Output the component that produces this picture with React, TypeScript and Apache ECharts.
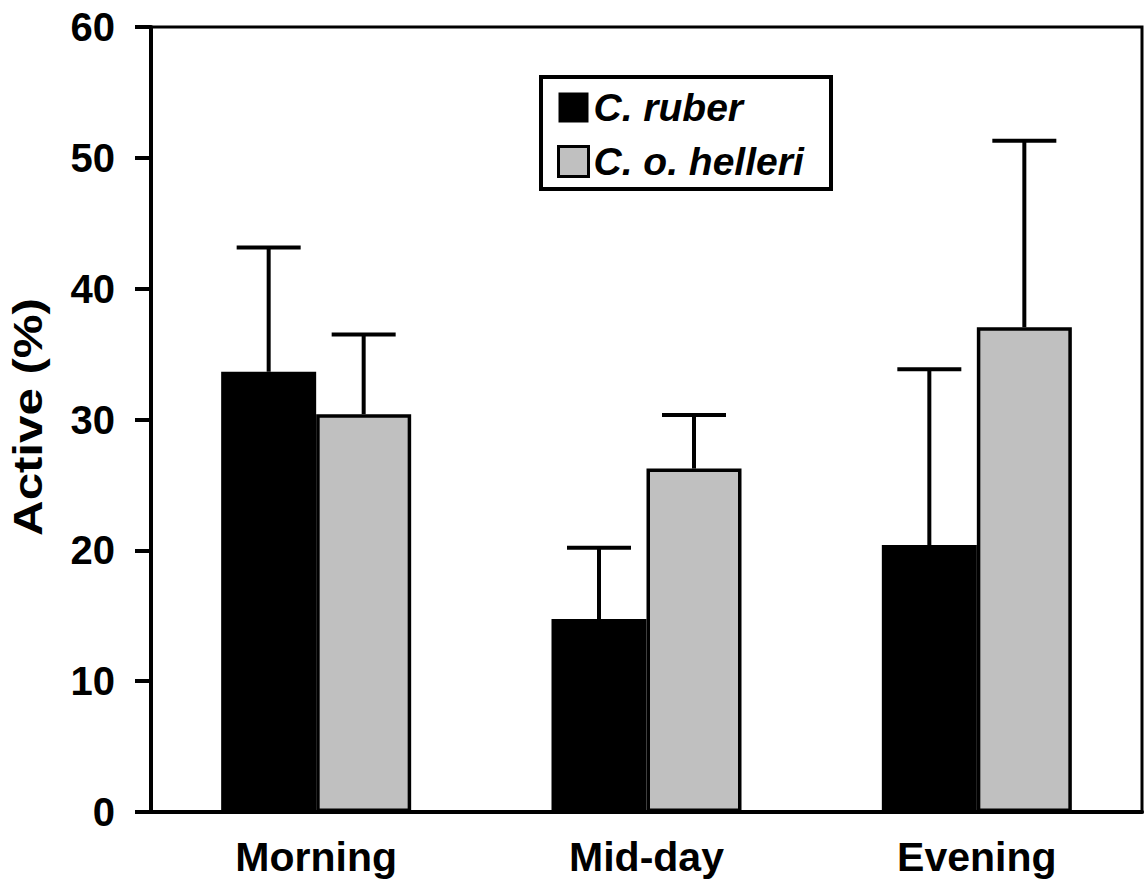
import React, { useEffect, useRef } from "react";
import * as echarts from "echarts";

const categories = ["Morning", "Mid-day", "Evening"];
const seriesNames = ["C. ruber", "C. o. helleri"];
const ruberMean = [33.65, 14.75, 20.4];
const ruberErr = [9.5, 5.45, 13.45];
const helleriMean = [30.4, 26.25, 37.05];
const helleriErr = [6.1, 4.1, 14.25];
const yMin = 0;
const yMax = 60;
const yInterval = 10;
const yTitle = "Active (%)";

const FONT = "Liberation Sans, Arial, Helvetica, sans-serif";
const BAR_W = 95;

export default function App() {
  const ref = useRef<HTMLDivElement>(null);
  useEffect(() => {
    if (!ref.current) return;
    const chart = echarts.init(ref.current, null, { renderer: "svg" });

    const errSeries = (name: string, means: number[], errs: number[], offset: number) => ({
      type: "custom",
      name: name + " err",
      z: 5,
      silent: true,
      encode: { x: 0, y: 2 },
      data: means.map((m, i) => [i, m, m + errs[i]]),
      renderItem: (params: any, api: any) => {
        const cat = api.value(0);
        const p0 = api.coord([cat, api.value(1)]);
        const p1 = api.coord([cat, api.value(2)]);
        const x = p0[0] + offset;
        const st = { stroke: "#000", lineWidth: 4 };
        return {
          type: "group",
          children: [
            { type: "line", shape: { x1: x, y1: p0[1], x2: x, y2: p1[1] }, style: st },
            { type: "line", shape: { x1: x - 32, y1: p1[1], x2: x + 32, y2: p1[1] }, style: st },
          ],
        };
      },
    });

    chart.setOption({
      animation: false,
      grid: {
        left: 151,
        right: 2,
        top: 27,
        bottom: 70,
        show: true,
        borderColor: "#000",
        borderWidth: 3,
      },
      legend: {
        orient: "vertical",
        left: 552,
        top: 83,
        itemWidth: 30,
        itemHeight: 30,
        itemGap: 15,
        icon: "rect",
        data: [
          { name: seriesNames[0], itemStyle: { color: "#000", borderColor: "#000", borderWidth: 0 } },
          { name: seriesNames[1], itemStyle: { color: "#c0c0c0", borderColor: "#000", borderWidth: 3 } },
        ],
        textStyle: {
          fontFamily: FONT,
          fontSize: 39,
          fontWeight: "bold",
          fontStyle: "italic",
          color: "#000",
        },
      },
      graphic: [
        {
          type: "rect",
          shape: { x: 541, y: 77, width: 290, height: 112 },
          style: { fill: "none", stroke: "#000", lineWidth: 4 },
          z: 10,
        },
        {
          type: "text",
          x: 28,
          y: 417,
          rotation: Math.PI / 2,
          scaleX: 1.2,
          style: {
            text: yTitle,
            fontFamily: FONT,
            fontSize: 41,
            fontWeight: "bold",
            fill: "#000",
            align: "center",
            verticalAlign: "middle",
          },
        },
      ],
      xAxis: {
        type: "category",
        data: categories,
        axisLine: { lineStyle: { color: "#000", width: 4 } },
        axisTick: { show: false },
        axisLabel: {
          fontFamily: FONT,
          fontSize: 41,
          fontWeight: "bold",
          color: "#000",
          margin: 24,
        },
      },
      yAxis: {
        type: "value",
        min: yMin,
        max: yMax,
        interval: yInterval,
        splitLine: { show: false },
        axisLine: { show: true, lineStyle: { color: "#000", width: 4 } },
        axisTick: { show: true, length: 16, lineStyle: { color: "#000", width: 4 } },
        axisLabel: {
          fontFamily: FONT,
          fontSize: 40,
          fontWeight: "bold",
          color: "#000",
          margin: 36,
        },
      },
      series: [
        {
          type: "bar",
          name: seriesNames[0],
          data: ruberMean,
          barWidth: BAR_W,
          barGap: "0%",
          itemStyle: { color: "#000", borderColor: "#000", borderWidth: 3 },
        },
        {
          type: "bar",
          name: seriesNames[1],
          data: helleriMean,
          barWidth: BAR_W,
          barGap: "0%",
          itemStyle: { color: "#c0c0c0", borderColor: "#000", borderWidth: 3.5 },
        },
        errSeries(seriesNames[0], ruberMean, ruberErr, -BAR_W / 2),
        errSeries(seriesNames[1], helleriMean, helleriErr, BAR_W / 2),
      ],
    });
    return () => chart.dispose();
  }, []);
  return (
    <div
      ref={ref}
      style={{ position: "fixed", left: 0, top: 0, width: 1144, height: 882, background: "#fff" }}
    />
  );
}
